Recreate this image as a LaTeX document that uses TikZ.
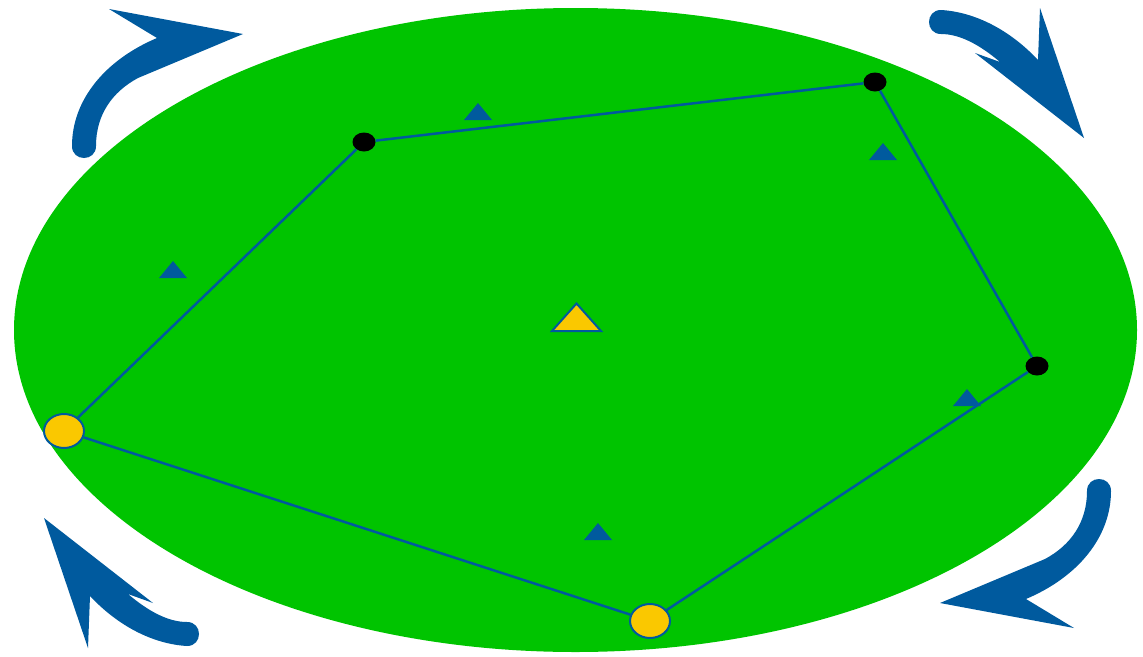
\documentclass[tikz,border=0pt]{standalone}
\usetikzlibrary{shapes.geometric}
\definecolor{fieldgreen}{RGB}{0,196,0}
\definecolor{arrowblue}{RGB}{0,90,158}
\definecolor{dotyellow}{RGB}{250,200,0}
\tikzset{
  blackdot/.style={ellipse,fill=black,draw=none,minimum width=23pt,minimum height=19pt,inner sep=0pt},
  yellowdot/.style={ellipse,fill=dotyellow,draw=arrowblue,line width=2pt,minimum width=40pt,minimum height=34pt,inner sep=0pt},
  edge/.style={draw=arrowblue,line width=2.5pt},
  bigarrow/.style={fill=arrowblue,draw=none},
  marker/.style={fill=arrowblue,draw=none},
}
\begin{document}
\begin{tikzpicture}[x=1pt,y=-1pt]
\useasboundingbox (0,0) rectangle (1143,656);
\fill[fieldgreen] (575.5,330) ellipse [x radius=561.5pt, y radius=322pt];

% rotating arrows
\path[bigarrow] (157,38) .. controls (105,60) and (72,100) .. (72,146)
  .. controls (72,162) and (96,162) .. (96,146)
  .. controls (96,115) and (112,92) .. (138,78) -- (243,34) -- (109,9) -- cycle;
\path[bigarrow] (1026,599) .. controls (1078,577) and (1111,537) .. (1111,491)
  .. controls (1111,475) and (1087,475) .. (1087,491)
  .. controls (1087,522) and (1071,545) .. (1045,559) -- (940,603) -- (1074,628) -- cycle;
\path[bigarrow] (941,10) .. controls (975,12) and (1010,30) .. (1038,60) -- (1040,8) -- (1084,138)
  -- (975,53) -- (1000,62) .. controls (980,45) and (960,34) .. (941,34)
  .. controls (925,34) and (925,10) .. (941,10) -- cycle;
\path[bigarrow] (187,646) .. controls (153,644) and (118,626) .. (90,596) -- (88,648) -- (44,518)
  -- (153,603) -- (128,594) .. controls (148,611) and (168,622) .. (187,622)
  .. controls (203,622) and (203,646) .. (187,646) -- cycle;

% vertices
\node[blackdot] (b1) at (364,142) {};
\node[blackdot] (b2) at (875,82) {};
\node[blackdot] (b3) at (1037,366) {};
\node[yellowdot] (y1) at (64,431) {};
\node[yellowdot] (y2) at (650,621) {};

\draw[edge] (y1) -- (b1);
\draw[edge] (b1) -- (b2);
\draw[edge] (b2) -- (b3);
\draw[edge] (b3) -- (y2);
\draw[edge] (y2) -- (y1);

% small markers
\foreach \mx/\my in {478/112, 883/152, 173/270, 967/398, 598/532}
  \fill[marker] (\mx,\my-9) -- (\mx+14,\my+8) -- (\mx-14,\my+8) -- cycle;

% central triangle
\filldraw[fill=dotyellow,draw=arrowblue,line width=2pt,line join=miter] (576.5,303.5) -- (601,331) -- (552,331) -- cycle;
\end{tikzpicture}
\end{document}
